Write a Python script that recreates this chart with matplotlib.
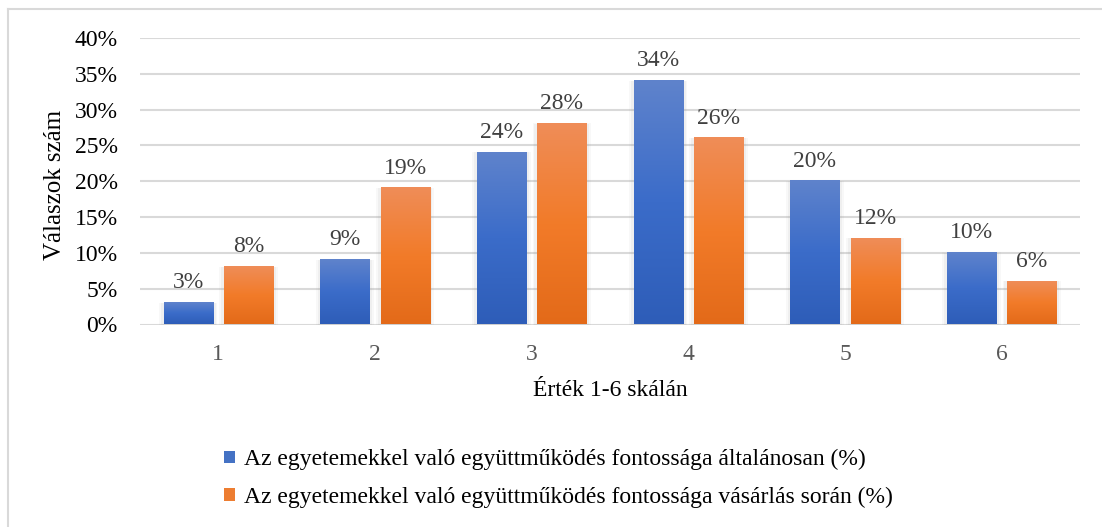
import numpy as np
import matplotlib.pyplot as plt
from matplotlib.colors import LinearSegmentedColormap
from matplotlib.patches import Patch, Rectangle
from matplotlib.lines import Line2D
from matplotlib.ticker import FuncFormatter

plt.rcParams['font.family'] = ['Liberation Serif', 'DejaVu Serif']

ertekek = ['1', '2', '3', '4', '5', '6']
altalanosan = [3, 9, 24, 34, 20, 10]
vasarlas = [8, 19, 28, 26, 12, 6]
sorozat_nevek = [
    'Az egyetemekkel való együttműködés fontossága általánosan (%)',
    'Az egyetemekkel való együttműködés fontossága vásárlás során (%)',
]

kek = LinearSegmentedColormap.from_list('kek', ['#2e5db8', '#3b6cc9', '#5f83cc'])
narancs = LinearSegmentedColormap.from_list('narancs', ['#e36a19', '#f27b29', '#ef8d58'])

FS = 17

fig = plt.figure(figsize=(11.02, 5.27), dpi=100)
ax = fig.add_axes([140 / 1102, 1 - 324.5 / 527, 940 / 1102, 286.5 / 527])

x = np.arange(len(ertekek))
w = 0.313
eltolas = 0.192
grad = np.linspace(0, 1, 256).reshape(-1, 1)

for adat, cmap, dx in [(altalanosan, kek, -eltolas), (vasarlas, narancs, eltolas)]:
    bars = ax.bar(x + dx, adat, w, color='none', zorder=3)
    for b, v in zip(bars, adat):
        x0, x1 = b.get_x(), b.get_x() + b.get_width()
        # halvány árnyék az oszlop körül
        for k, a in [(0.03, 0.05), (0.018, 0.07)]:
            ax.add_patch(Rectangle((x0 - k, 0), x1 - x0 + 2 * k, v + k * 2.2,
                                   color='#808080', alpha=a, lw=0, zorder=2))
        ax.imshow(grad, extent=[x0, x1, 0, v], origin='lower', aspect='auto',
                  cmap=cmap, zorder=3)
        ax.annotate(f'{v}%', (b.get_x() + b.get_width() / 2, v), xytext=(0, 7),
                    textcoords='offset points', ha='center', va='bottom',
                    fontsize=FS, color='#404040')

ax.set_xlim(-0.5, len(ertekek) - 0.5)
ax.set_ylim(0, 40)
ax.set_yticks(range(0, 41, 5))
ax.yaxis.set_major_formatter(FuncFormatter(lambda v, p: f'{v:.0f}%'))
ax.set_xticks(x)
ax.set_xticklabels(ertekek)
ax.tick_params(axis='y', length=0, pad=16, labelsize=FS, labelcolor='black')
ax.tick_params(axis='x', length=0, pad=14, labelsize=FS, labelcolor='#595959')
ax.grid(axis='y', color='#d9d9d9', linewidth=1.5, zorder=0)
for s in ax.spines.values():
    s.set_visible(False)

ax.set_xlabel('Érték 1-6 skálán', fontsize=FS, labelpad=11)
ax.set_ylabel('Válaszok szám', fontsize=18)
ax.yaxis.set_label_coords((66 - 140) / 940, (324.5 - 185) / 286.5)

fogantyuk = [Patch(facecolor='#4472c4'), Patch(facecolor='#ed7d31')]
fig.legend(fogantyuk, sorozat_nevek, loc='upper left', bbox_to_anchor=(203 / 1102, 1 - 428 / 527),
           frameon=False, fontsize=FS, handlelength=0.45, handleheight=0.45,
           handletextpad=0.4, labelspacing=0.68)

# keret a bal és a felső oldalon
fig.add_artist(Line2D([7.5 / 1102, 1], [1 - 8.5 / 527] * 2, color='#d9d9d9', lw=1.5))
fig.add_artist(Line2D([7.5 / 1102] * 2, [0, 1 - 8.5 / 527], color='#d9d9d9', lw=1.5))

fig.savefig('out.png', dpi=100)
